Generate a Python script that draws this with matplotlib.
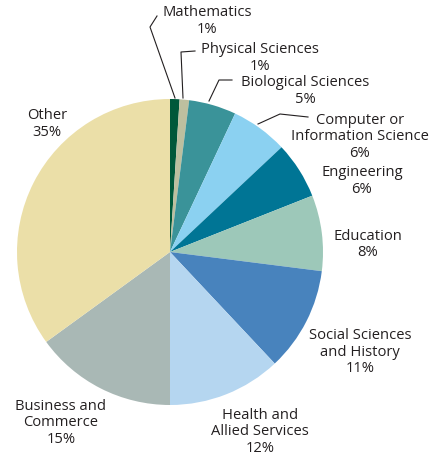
import matplotlib
matplotlib.use("Agg")
import matplotlib.pyplot as plt

categories = ["Mathematics", "Physical Sciences", "Biological Sciences",
              "Computer or\nInformation Science", "Engineering", "Education",
              "Social Sciences\nand History", "Health and\nAllied Services",
              "Business and\nCommerce", "Other"]
values = [1, 1, 5, 6, 6, 8, 11, 12, 15, 35]
colors = ["#00583a", "#bdbf9f", "#3a9399", "#8bd1f1", "#007595",
          "#9dc8b9", "#4883bd", "#b5d6f0", "#a9b8b5", "#ebdfa8"]

W, H = 435, 456
fig = plt.figure(figsize=(W / 100, H / 100), dpi=100)
ax = fig.add_axes([0, 0, 1, 1])

def Y(y):
    return H - y

cx, cy, r = 170, 253, 153
ax.pie(values, colors=colors, startangle=90, counterclock=False,
       center=(cx, Y(cy)), radius=r, wedgeprops=dict(linewidth=0))
ax.set_xlim(0, W)
ax.set_ylim(0, H)
ax.set_aspect("equal")
ax.axis("off")

font = dict(family="Open Sans", fontsize=10.6, color="#231f20",
            ha="center", va="center", linespacing=1.13)

label_pos = [(207, 21), (260, 58), (305, 91), (360, 137), (362, 181),
             (368, 244.5), (360, 352), (260, 432), (61, 423), (47, 124)]
for cat, v, (x, y) in zip(categories, values, label_pos):
    ax.text(x, Y(y), f"{cat}\n{v}%", **font)

leaders = [
    [(157, 17), (150, 28), (175, 99)],
    [(195, 52), (181, 53), (183, 99)],
    [(232, 81), (219, 81), (209, 102)],
    [(308, 118), (280, 115), (258, 125)],
]
for pts in leaders:
    ax.plot([p[0] for p in pts], [Y(p[1]) for p in pts], color="#231f20", lw=0.8)

fig.savefig("out.png", dpi=100)
